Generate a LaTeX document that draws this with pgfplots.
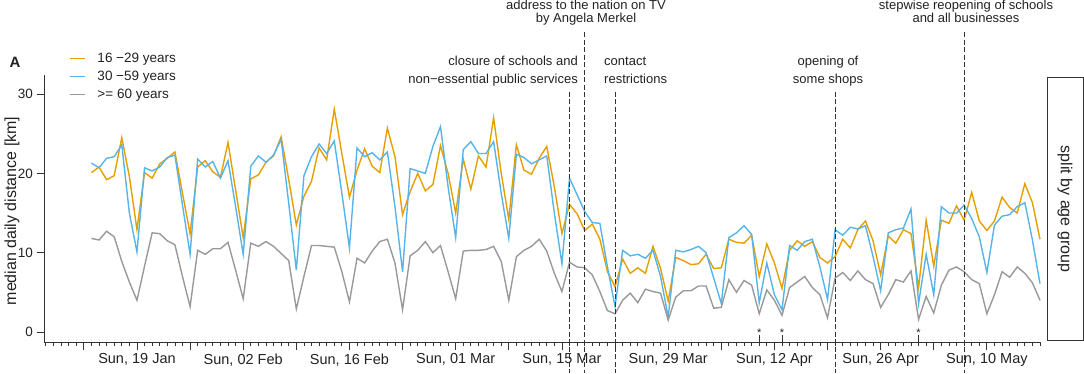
\documentclass[border=0pt]{standalone}
\usepackage{fontspec}
\setmainfont{Liberation Sans}
\usepackage{pgfplots}
\pgfplotsset{compat=1.18}
\usepackage{pgfplotstable}
\definecolor{cO}{HTML}{E69F00}
\definecolor{cB}{HTML}{56B4E9}
\definecolor{cG}{HTML}{999999}
\definecolor{cD}{HTML}{333333}
\definecolor{cT}{HTML}{222222}

% d = days after Sun, 19 Jan 2020; o = 16-29, b = 30-59, g = >=60
\pgfplotstableread{
d o b g
-6 20.1 21.3 11.8
-5 20.8 20.7 11.6
-4 19.2 21.9 12.7
-3 19.7 22.1 12.0
-2 24.5 23.6 8.9
-1 19.6 15.0 6.3
0 12.9 10.1 4.0
1 20.1 20.7 8.3
2 19.4 20.3 12.5
3 21.2 20.8 12.4
4 21.9 22.0 11.5
5 22.7 22.3 11.0
6 17.5 16.0 7.0
7 12.4 9.8 3.2
8 20.8 21.8 10.3
9 21.6 20.8 9.8
10 20.2 21.5 10.5
11 19.5 19.4 10.5
12 23.9 21.6 11.3
13 17.9 15.8 7.8
14 11.9 9.8 4.2
15 19.3 20.9 11.2
16 19.8 22.2 10.8
17 21.4 21.4 11.4
18 22.2 22.3 10.8
19 24.6 24.3 9.9
20 19.2 16.2 9.0
21 13.5 7.8 2.9
22 17.1 19.7 7.0
23 19.0 22.1 10.9
24 23.2 23.7 10.9
25 21.7 22.5 10.8
26 28.1 24.1 10.7
27 22.5 17.5 7.6
28 17.0 10.6 3.8
29 20.4 23.2 9.3
30 23.1 22.1 8.7
31 20.9 22.6 10.2
32 20.1 21.7 11.4
33 25.7 22.7 11.7
34 22.1 15.8 8.7
35 14.8 7.6 2.8
36 17.7 20.6 9.6
37 20.0 20.3 10.3
38 17.8 20.0 11.4
39 18.6 23.4 10.0
40 23.5 25.9 10.9
41 20.0 18.3 7.6
42 15.0 11.9 4.2
43 21.8 23.0 10.2
44 18.0 24.0 10.3
45 22.2 22.5 10.3
46 20.8 22.5 10.4
47 27.0 24.0 10.8
48 20.0 17.5 8.9
49 14.2 11.8 4.0
50 23.6 22.4 9.5
51 20.4 22.0 10.3
52 19.9 21.2 10.8
53 21.9 21.7 11.7
54 23.4 22.2 10.2
55 18.3 15.0 7.4
56 12.4 8.6 5.1
57 16.1 19.4 8.8
58 14.9 17.3 8.2
59 12.8 15.2 8.1
60 13.6 13.8 7.2
61 11.7 13.7 5.1
62 7.6 8.2 2.7
63 5.7 3.2 2.3
64 9.2 10.3 4.0
65 7.4 9.6 4.9
66 8.1 9.8 3.7
67 7.4 9.3 5.4
68 10.8 10.3 5.1
69 8.0 7.0 4.9
70 3.9 1.9 1.5
71 9.4 10.3 4.4
72 9.0 10.1 5.2
73 8.5 10.4 5.2
74 8.6 10.8 5.8
75 9.8 10.0 5.8
76 8.0 6.8 3.0
77 8.1 3.6 3.1
78 11.7 11.9 6.6
79 11.3 12.5 5.0
80 11.2 13.4 6.5
81 12.2 12.3 5.9
82 7.0 3.7 2.3
83 11.1 8.7 5.3
84 8.7 4.7 4.0
85 5.5 2.8 2.1
86 10.3 10.9 5.6
87 11.5 10.3 6.3
88 10.8 11.4 7.0
89 11.4 11.7 5.6
90 9.4 8.2 4.7
91 8.7 4.1 1.8
92 9.5 12.9 6.8
93 11.7 12.2 7.5
94 10.6 13.2 6.5
95 12.9 13.0 7.7
96 14.0 13.4 6.6
97 11.5 9.5 6.1
98 7.2 5.2 3.1
99 12.1 12.5 4.7
100 11.2 12.9 6.6
101 12.9 13.1 6.3
102 12.4 15.5 7.7
103 5.6 3.6 1.6
104 14.1 9.8 4.5
105 8.3 4.7 2.4
106 14.1 15.8 5.9
107 13.7 15.0 7.8
108 15.9 15.0 8.2
109 14.1 16.0 7.6
110 17.6 14.3 6.6
111 14.0 12.0 6.1
112 12.8 7.5 2.3
113 14.0 13.5 4.7
114 17.0 14.6 7.6
115 15.7 14.8 6.9
116 15.0 15.8 8.2
117 18.7 16.3 7.4
118 16.3 11.6 6.2
119 11.7 6.1 4.0
}\data

\begin{document}
\begin{tikzpicture}[x=1pt,y=1pt]
\useasboundingbox (0,0) rectangle (1084,373);
\begin{axis}[
  at={(44pt,31pt)}, anchor=south west,
  scale only axis, width=996pt, height=267pt,
  xmin=-12.25, xmax=119, ymin=-1.26, ymax=32.4,
  axis lines=left, axis line style={-, cD, line width=0.9pt},
  clip=false,
  tick align=outside,
  major tick length=7.5pt, minor tick length=3.5pt,
  tick style={cD, line width=0.8pt},
  xtick={-7,0,...,112},
  xticklabels={{},{Sun, 19 Jan},{},{Sun, 02 Feb},{},{Sun, 16 Feb},{},{Sun, 01 Mar},{},{Sun, 15 Mar},{},{Sun, 29 Mar},{},{Sun, 12 Apr},{},{Sun, 26 Apr},{},{Sun, 10 May}},
  minor xtick={-12,...,119},
  ytick={0,10,20,30},
  /pgf/number format/assume math mode=true,
  yticklabel style={font=\fontsize{13.5}{15}\selectfont, text=cT},
  xticklabel style={font=\fontsize{14.5}{16}\selectfont, text=cT, yshift=-0.5pt},
  legend style={at={(rel axis cs:0.025,1.09)}, anchor=north west, draw=none, fill=none,
     font=\fontsize{13.5}{15}\selectfont, row sep=3pt, inner sep=0pt,
     cells={anchor=west}, text=cT,
     /tikz/every odd column/.append style={column sep=10pt}},
  legend image code/.code={\draw[#1] (0pt,0pt) -- (15pt,0pt);},
]
\addplot[cO, line width=1.4pt] table[x=d, y=o]{\data};
\addlegendentry{16 −29 years}
\addplot[cB, line width=1.4pt] table[x=d, y=b]{\data};
\addlegendentry{30 −59 years}
\addplot[cG, line width=1.4pt] table[x=d, y=g]{\data};
\addlegendentry{>= 60 years}

% intervention lines
\draw[cD, line width=0.9pt, dash pattern=on 5pt off 2.5pt] (axis cs:57,30.3) -- (axis cs:57,-5.2);
\draw[cD, line width=0.9pt, dash pattern=on 5pt off 2.5pt] (axis cs:59,37.8) -- (axis cs:59,-5.2);
\draw[cD, line width=0.9pt, dash pattern=on 5pt off 2.5pt] (axis cs:63,30.3) -- (axis cs:63,-5.2);
\draw[cD, line width=0.9pt, dash pattern=on 5pt off 2.5pt] (axis cs:92,30.3) -- (axis cs:92,-5.2);
\draw[cD, line width=0.9pt, dash pattern=on 5pt off 2.5pt] (axis cs:109,37.8) -- (axis cs:109,-5.2);

% holidays (Good Friday, Easter Monday, 1 May)
\pgfplotsinvokeforeach{82,85,103}{
  \draw[cD, line width=0.8pt] (axis cs:#1,-1.26) -- ++(0pt,7pt);
  \node[font=\fontsize{11}{12}\selectfont, text=cT, inner sep=0pt] at (axis cs:#1,-0.05) {*};
}
\end{axis}

% panel letter and axis title
\node[font=\bfseries\fontsize{15}{17}\selectfont, text=cT] at (15,311) {A};
\node[font=\fontsize{16}{18}\selectfont, text=cT, rotate=90] at (12,162) {median daily distance [km]};

% annotations
\begin{scope}[every node/.style={font=\fontsize{13}{15}\selectfont, text=cT, inner sep=0pt}]
\node[anchor=base east] at (578,307) {closure of schools and};
\node[anchor=base east] at (578,289) {non−essential public services};
\node[anchor=base] at (586,363) {address to the nation on TV};
\node[anchor=base] at (586,350.3) {by Angela Merkel};
\node[anchor=base west] at (604,307) {contact};
\node[anchor=base west] at (604,289) {restrictions};
\node[anchor=base] at (828,307) {opening of};
\node[anchor=base] at (828,289) {some shops};
\node[anchor=base] at (966,363) {stepwise reopening of schools};
\node[anchor=base] at (966,350.3) {and all businesses};
\end{scope}

% facet strip
\draw[cD, line width=1pt] (1047,33) rectangle (1083,295);
\node[font=\fontsize{16}{18}\selectfont, text=cT, rotate=-90] at (1065,164) {split by age group};
\end{tikzpicture}
\end{document}
